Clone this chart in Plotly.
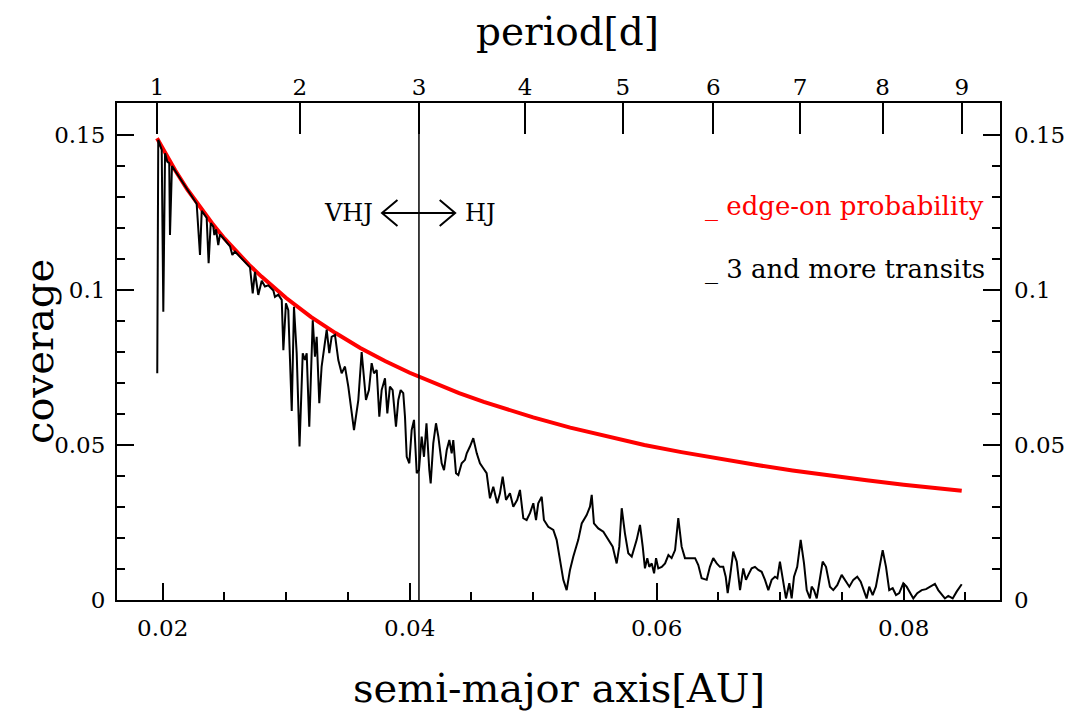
import plotly.graph_objects as go

# ---------------- data ----------------
semi_major_axis_au = [
    0.01956, 0.01964, 0.01992, 0.02005, 0.02019, 0.02037, 0.02053, 0.02059, 0.02075, 0.02100,
    0.02275, 0.02302, 0.02316, 0.02356, 0.02372, 0.02389, 0.02410, 0.02418, 0.02432, 0.02450,
    0.02464, 0.02545, 0.02564, 0.02585, 0.02707, 0.02729, 0.02747, 0.02774, 0.02802, 0.02828,
    0.02855, 0.02896, 0.02909, 0.02936, 0.02964, 0.02977, 0.02998, 0.03017, 0.03045, 0.03063,
    0.03085, 0.03108, 0.03134, 0.03152, 0.03166, 0.03187, 0.03215, 0.03233, 0.03247, 0.03268,
    0.03287, 0.03328, 0.03349, 0.03368, 0.03395, 0.03422, 0.03449, 0.03476, 0.03503, 0.03549,
    0.03584, 0.03611, 0.03646, 0.03670, 0.03692, 0.03711, 0.03733, 0.03754, 0.03773, 0.03800,
    0.03819, 0.03840, 0.03862, 0.03889, 0.03908, 0.03927, 0.03948, 0.03962, 0.03976, 0.03997,
    0.04016, 0.04035, 0.04057, 0.04075, 0.04097, 0.04116, 0.04136, 0.04159, 0.04170, 0.04191,
    0.04213, 0.04232, 0.04259, 0.04278, 0.04300, 0.04321, 0.04340, 0.04353, 0.04375, 0.04394,
    0.04421, 0.04448, 0.04462, 0.04488, 0.04515, 0.04543, 0.04569, 0.04596, 0.04623, 0.04650,
    0.04677, 0.04709, 0.04731, 0.04753, 0.04780, 0.04812, 0.04839, 0.04871, 0.04893, 0.04920,
    0.04947, 0.04974, 0.05001, 0.05023, 0.05041, 0.05069, 0.05087, 0.05122, 0.05163, 0.05190,
    0.05217, 0.05244, 0.05271, 0.05298, 0.05325, 0.05365, 0.05393, 0.05433, 0.05460, 0.05474,
    0.05492, 0.05527, 0.05568, 0.05608, 0.05644, 0.05676, 0.05697, 0.05717, 0.05743, 0.05770,
    0.05798, 0.05838, 0.05865, 0.05887, 0.05905, 0.05924, 0.05940, 0.05960, 0.05979, 0.05995,
    0.06013, 0.06041, 0.06068, 0.06095, 0.06121, 0.06149, 0.06175, 0.06202, 0.06229, 0.06270,
    0.06311, 0.06337, 0.06364, 0.06405, 0.06431, 0.06458, 0.06486, 0.06512, 0.06539, 0.06559,
    0.06575, 0.06594, 0.06620, 0.06648, 0.06675, 0.06701, 0.06723, 0.06742, 0.06769, 0.06796,
    0.06823, 0.06850, 0.06877, 0.06904, 0.06931, 0.06958, 0.06977, 0.06998, 0.07020, 0.07047,
    0.07074, 0.07093, 0.07112, 0.07138, 0.07166, 0.07193, 0.07215, 0.07241, 0.07255, 0.07274,
    0.07296, 0.07322, 0.07344, 0.07371, 0.07403, 0.07430, 0.07462, 0.07498, 0.07525, 0.07560,
    0.07592, 0.07624, 0.07652, 0.07679, 0.07700, 0.07721, 0.07749, 0.07775, 0.07802, 0.07830,
    0.07857, 0.07883, 0.07911, 0.07938, 0.07964, 0.07997, 0.08024, 0.08051, 0.08078, 0.08110,
    0.08146, 0.08181, 0.08213, 0.08253, 0.08280, 0.08308, 0.08334, 0.08361, 0.08397, 0.08429,
    0.08470,
]
coverage_3plus_transits = [
    0.0731, 0.1484, 0.1452, 0.0930, 0.1441, 0.1414, 0.1409, 0.1177, 0.1400, 0.1385,
    0.1278, 0.1113, 0.1255, 0.1233, 0.1086, 0.1216, 0.1204, 0.1177, 0.1195, 0.1145,
    0.1179, 0.1141, 0.1113, 0.1124, 0.1073, 0.0989, 0.1058, 0.0984, 0.1030, 0.1011,
    0.1015, 0.0998, 0.0978, 0.0985, 0.0968, 0.0806, 0.0957, 0.0935, 0.0610, 0.0946,
    0.0796, 0.0495, 0.0796, 0.0774, 0.0796, 0.0559, 0.0902, 0.0785, 0.0849, 0.0635,
    0.0753, 0.0872, 0.0796, 0.0849, 0.0855, 0.0774, 0.0731, 0.0753, 0.0688, 0.0548,
    0.0645, 0.0800, 0.0645, 0.0677, 0.0764, 0.0731, 0.0742, 0.0591, 0.0677, 0.0715,
    0.0602, 0.0688, 0.0677, 0.0559, 0.0645, 0.0677, 0.0667, 0.0591, 0.0462, 0.0441,
    0.0548, 0.0581, 0.0409, 0.0419, 0.0527, 0.0462, 0.0570, 0.0419, 0.0376, 0.0505,
    0.0570, 0.0527, 0.0441, 0.0419, 0.0484, 0.0516, 0.0473, 0.0516, 0.0409, 0.0403,
    0.0441, 0.0452, 0.0473, 0.0495, 0.0522, 0.0473, 0.0441, 0.0425, 0.0409, 0.0328,
    0.0365, 0.0312, 0.0344, 0.0398, 0.0323, 0.0344, 0.0301, 0.0323, 0.0355, 0.0264,
    0.0258, 0.0280, 0.0312, 0.0258, 0.0312, 0.0333, 0.0258, 0.0236, 0.0226, 0.0194,
    0.0129, 0.0065, 0.0032, 0.0097, 0.0140, 0.0194, 0.0247, 0.0274, 0.0301, 0.0339,
    0.0247, 0.0231, 0.0220, 0.0194, 0.0172, 0.0118, 0.0172, 0.0296, 0.0215, 0.0151,
    0.0140, 0.0194, 0.0242, 0.0172, 0.0102, 0.0135, 0.0107, 0.0118, 0.0086, 0.0135,
    0.0102, 0.0107, 0.0118, 0.0145, 0.0135, 0.0161, 0.0264, 0.0172, 0.0135, 0.0135,
    0.0135, 0.0113, 0.0070, 0.0065, 0.0107, 0.0135, 0.0118, 0.0107, 0.0107, 0.0075,
    0.0022, 0.0075, 0.0156, 0.0124, 0.0032, 0.0102, 0.0065, 0.0081, 0.0102, 0.0107,
    0.0097, 0.0091, 0.0065, 0.0032, 0.0065, 0.0075, 0.0070, 0.0124, 0.0075, 0.0005,
    0.0054, 0.0005, 0.0075, 0.0107, 0.0194, 0.0118, 0.0032, 0.0005, 0.0043, 0.0032,
    0.0005, 0.0075, 0.0124, 0.0107, 0.0043, 0.0032, 0.0048, 0.0081, 0.0065, 0.0043,
    0.0065, 0.0075, 0.0059, 0.0032, 0.0005, 0.0043, 0.0016, 0.0043, 0.0107, 0.0161,
    0.0107, 0.0032, 0.0038, 0.0016, 0.0022, 0.0054, 0.0043, 0.0022, 0.0005, 0.0022,
    0.0032, 0.0035, 0.0043, 0.0052, 0.0032, 0.0016, 0.0005, 0.0013, 0.0005, 0.0027,
    0.0051,
]

edge_on_a_au = [
    0.01954, 0.0200, 0.0210, 0.0220, 0.0230, 0.0240, 0.0250, 0.0260, 0.0270, 0.0280,
    0.0290, 0.0300, 0.0320, 0.0340, 0.0360, 0.0380, 0.0400, 0.0420, 0.0440, 0.0460,
    0.0480, 0.0500, 0.0530, 0.0560, 0.0590, 0.0620, 0.0650, 0.0680, 0.0710, 0.0740,
    0.0770, 0.0800, 0.0830, 0.0847,
]
edge_on_probability = [
    0.1489, 0.1455, 0.1387, 0.1324, 0.1267, 0.1215, 0.1166, 0.1122, 0.1081, 0.1043,
    0.1007, 0.0974, 0.0913, 0.0861, 0.0813, 0.0771, 0.0733, 0.0699, 0.0667, 0.0639,
    0.0613, 0.0589, 0.0556, 0.0527, 0.0500, 0.0477, 0.0455, 0.0436, 0.0418, 0.0401,
    0.0386, 0.0372, 0.0359, 0.0352,
]

period_tick_labels = ["1", "2", "3", "4", "5", "6", "7", "8", "9"]
period_tick_a_au = [0.01954, 0.03111, 0.04075, 0.04934, 0.05725, 0.06458, 0.07160, 0.07830, 0.08470]

x_tick_vals = [0.02, 0.04, 0.06, 0.08]
x_tick_labels = ["0.02", "0.04", "0.06", "0.08"]
y_tick_vals = [0, 0.05, 0.1, 0.15]
y_tick_labels = ["0", "0.05", "0.1", "0.15"]

X_RANGE = [0.0163, 0.0878]
Y_RANGE = [0.0, 0.1603]

# VHJ / HJ boundary (period = 3 d) and arrow annotation
boundary_a = period_tick_a_au[2]
arrow_y = 0.1248
arrow_left = 0.03776
arrow_right = 0.04368
head_dx = 0.00125
head_dy = 0.0042

FONT = "DejaVu Serif"
TICK_SIZE = 23

fig = go.Figure()

fig.add_trace(go.Scatter(
    x=edge_on_a_au, y=edge_on_probability, mode="lines",
    line=dict(color="#ff0000", width=4), name="edge-on probability",
    showlegend=False, xaxis="x", yaxis="y",
))
fig.add_trace(go.Scatter(
    x=semi_major_axis_au, y=coverage_3plus_transits, mode="lines",
    line=dict(color="#000000", width=2), name="3 and more transits",
    showlegend=False, xaxis="x", yaxis="y",
))
# invisible helper trace so the top (period) and right axes are drawn
fig.add_trace(go.Scatter(
    x=[X_RANGE[0]], y=[Y_RANGE[0]], mode="markers", marker=dict(opacity=0),
    showlegend=False, hoverinfo="skip", xaxis="x2", yaxis="y2",
))

axis_common = dict(showgrid=False, zeroline=False, linecolor="black", linewidth=2,
                   tickcolor="black", ticks="inside", tickwidth=1.6,
                   tickfont=dict(family=FONT, size=TICK_SIZE, color="black"))
minor_common = dict(ticks="inside", ticklen=8, tickcolor="black", tickwidth=1.6)

fig.update_layout(
    width=1077, height=718,
    # the page body adds an 8 px offset; margins compensate so the frame
    # lands at x 117..1000, y 103..600 in the window
    margin=dict(l=109, r=85, t=95, b=126),
    paper_bgcolor="white", plot_bgcolor="white",
    xaxis=dict(range=X_RANGE, tickvals=x_tick_vals, ticktext=x_tick_labels,
               ticklen=17, showline=True, mirror=True,
               minor=dict(dtick=0.005, tick0=0, **minor_common),
               ticklabelstandoff=6, **axis_common),
    xaxis2=dict(range=X_RANGE, overlaying="x", side="top", anchor="y",
                tickvals=period_tick_a_au, ticktext=period_tick_labels,
                ticklen=31, showline=False, ticklabelstandoff=2, **axis_common),
    yaxis=dict(range=Y_RANGE, tickvals=y_tick_vals, ticktext=y_tick_labels,
               ticklen=17, showline=True, mirror=True,
               minor=dict(dtick=0.01, tick0=0, **minor_common),
               ticklabelstandoff=5, **axis_common),
    yaxis2=dict(range=Y_RANGE, overlaying="y", side="right", anchor="x",
                tickvals=y_tick_vals, ticktext=y_tick_labels,
                ticklen=17, showline=False,
                minor=dict(dtick=0.01, tick0=0, **minor_common),
                ticklabelstandoff=13, **axis_common),
)

# vertical line at the VHJ/HJ boundary
fig.add_shape(type="line", xref="x", yref="paper", x0=boundary_a, x1=boundary_a,
              y0=0, y1=1, line=dict(color="black", width=1.5))

# double-headed open arrow
arrow_path = (
    f"M {arrow_left + head_dx},{arrow_y + head_dy} L {arrow_left},{arrow_y} "
    f"L {arrow_left + head_dx},{arrow_y - head_dy} "
    f"M {arrow_left},{arrow_y} L {arrow_right},{arrow_y} "
    f"M {arrow_right - head_dx},{arrow_y + head_dy} L {arrow_right},{arrow_y} "
    f"L {arrow_right - head_dx},{arrow_y - head_dy}"
)
fig.add_shape(type="path", xref="x", yref="y", path=arrow_path,
              line=dict(color="black", width=2))

fig.add_annotation(x=arrow_left - 0.00055, y=arrow_y, xref="x", yref="y",
                   text="VHJ", showarrow=False, xanchor="right", yanchor="middle",
                   font=dict(family=FONT, size=24, color="black"))
fig.add_annotation(x=arrow_right + 0.00065, y=arrow_y, xref="x", yref="y",
                   text="HJ", showarrow=False, xanchor="left", yanchor="middle",
                   font=dict(family=FONT, size=24, color="black"))

# legend-like labels
fig.add_annotation(x=0.664, y=0.792, xref="paper", yref="paper",
                   text="_ edge-on probability", showarrow=False,
                   xanchor="left", yanchor="middle",
                   font=dict(family=FONT, size=26, color="#ff0000"))
fig.add_annotation(x=0.664, y=0.664, xref="paper", yref="paper",
                   text="_ 3 and more transits", showarrow=False,
                   xanchor="left", yanchor="middle",
                   font=dict(family=FONT, size=26, color="black"))

# axis titles
fig.add_annotation(x=0.501, y=-0.177, xref="paper", yref="paper",
                   text="semi-major axis[AU]", showarrow=False,
                   xanchor="center", yanchor="middle",
                   font=dict(family=FONT, size=40, color="black"))
fig.add_annotation(x=0.51, y=1.143, xref="paper", yref="paper",
                   text="period[d]", showarrow=False,
                   xanchor="center", yanchor="middle",
                   font=dict(family=FONT, size=39, color="black"))
fig.add_annotation(x=-0.089, y=0.5, xref="paper", yref="paper",
                   text="coverage", showarrow=False, textangle=-90,
                   xanchor="center", yanchor="middle",
                   font=dict(family=FONT, size=40, color="black"))

fig.write_html("out.html")
